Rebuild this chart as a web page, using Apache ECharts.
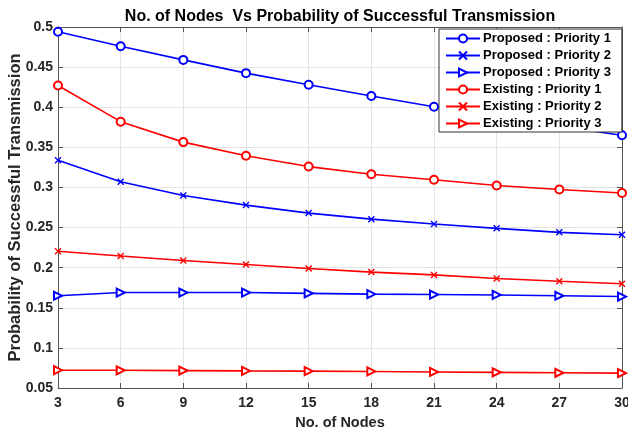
<!DOCTYPE html>
<html>
<head>
<meta charset="utf-8">
<script src="https://cdn.jsdelivr.net/npm/echarts@6/dist/echarts.min.js"></script>
<style>
  html, body { margin: 0; padding: 0; background: #fff; }
  #chart { width: 628px; height: 433px; }
</style>
</head>
<body>
<div id="chart"></div>
<script>
// number of nodes (x axis)
const nodes = [3, 6, 9, 12, 15, 18, 21, 24, 27, 30];

// values
const proposedP1 = [0.494, 0.476, 0.459, 0.4425, 0.428, 0.414, 0.4005, 0.388, 0.376, 0.365];
const proposedP2 = [0.334, 0.307, 0.290, 0.278, 0.268, 0.2605, 0.2545, 0.249, 0.244, 0.241];
const proposedP3 = [0.165, 0.169, 0.169, 0.169, 0.168, 0.167, 0.1665, 0.166, 0.165, 0.164];
const existingP1 = [0.427, 0.382, 0.3565, 0.3395, 0.326, 0.3165, 0.3095, 0.3025, 0.2975, 0.293];
const existingP2 = [0.2205, 0.2145, 0.209, 0.204, 0.199, 0.1945, 0.191, 0.1865, 0.183, 0.180];
const existingP3 = [0.0722, 0.0721, 0.0717, 0.0713, 0.071, 0.0706, 0.070, 0.0695, 0.069, 0.0685];

const yTicks = [0.05, 0.1, 0.15, 0.2, 0.25, 0.3, 0.35, 0.4, 0.45, 0.5];

const FONT = '"Liberation Sans", Arial, Helvetica, sans-serif';
const BLUE = '#0000ff';
const RED = '#ff0000';
const CROSS = 'path://M0,0L10,10M10,0L0,10';

function pairs(vals) {
    return vals.map((v, i) => [nodes[i], v]);
}

function mkSeries(name, vals, color, symbol, rotate) {
    return {
        name: name,
        type: 'line',
        data: pairs(vals),
        symbol: symbol,
        symbolSize: symbol === CROSS ? 6 : 8,
        symbolRotate: rotate || 0,
        showAllSymbol: true,
        lineStyle: { color: color, width: 1.6 },
        itemStyle: { color: color, borderColor: color, borderWidth: 1.4 },
        emphasis: { disabled: true },
        animation: false
    };
}

let series = [
    mkSeries('Proposed : Priority 1', proposedP1, BLUE, 'emptyCircle'),
    mkSeries('Proposed : Priority 2', proposedP2, BLUE, CROSS),
    mkSeries('Proposed : Priority 3', proposedP3, BLUE, 'emptyTriangle', -90),
    mkSeries('Existing : Priority 1', existingP1, RED, 'emptyCircle'),
    mkSeries('Existing : Priority 2', existingP2, RED, CROSS),
    mkSeries('Existing : Priority 3', existingP3, RED, 'emptyTriangle', -90)
];

let axisLine = { show: true, lineStyle: { color: '#555', width: 1 } };
let tick = { show: true, inside: true, length: 5, lineStyle: { color: '#555' } };
let label = { color: '#262626', fontWeight: 'bold', fontSize: 14, fontFamily: FONT };

let option = {
    backgroundColor: '#fff',
    animation: false,
    title: {
        text: 'No. of Nodes  Vs Probability of Successful Transmission',
        left: 335,
        textAlign: 'center',
        top: 4,
        textStyle: { color: '#000', fontWeight: 'bold', fontSize: 16, fontFamily: FONT }
    },
    legend: {
        orient: 'vertical',
        left: 439,
        top: 29,
        itemWidth: 34,
        itemHeight: 10,
        itemGap: 4,
        padding: [3, 11, 2, 6],
        backgroundColor: '#fff',
        borderColor: '#333',
        borderWidth: 1,
        textStyle: { color: '#000', fontWeight: 'bold', fontSize: 13, fontFamily: FONT, padding: [0, 0, 0, -2] },
        data: series.map(s => s.name)
    },
    // keep the plot box where it is, names may sit close to the edge
    grid: { left: 58, right: 6, top: 27, bottom: 45, containLabel: false, outerBoundsMode: 'none' },
    xAxis: [{
        type: 'value',
        min: 3,
        max: 30,
        interval: 3,
        name: 'No. of Nodes',
        nameLocation: 'middle',
        nameGap: 27,
        nameMoveOverlap: false,
        nameTextStyle: { color: '#262626', fontWeight: 'bold', fontSize: 14.5, fontFamily: FONT },
        axisLine: axisLine,
        axisTick: tick,
        axisLabel: Object.assign({ margin: 8 }, label),
        splitLine: { show: true, lineStyle: { color: '#e3e3e3' } }
    }, {
        type: 'value',
        position: 'top',
        min: 3,
        max: 30,
        interval: 3,
        axisLine: axisLine,
        axisTick: tick,
        axisLabel: { show: false },
        splitLine: { show: false }
    }],
    yAxis: [{
        type: 'value',
        min: 0.05,
        max: 0.5,
        interval: 0.05,
        name: 'Probability of Successful Transmission',
        nameLocation: 'middle',
        nameGap: 34,
        nameMoveOverlap: false,
        nameTextStyle: { color: '#262626', fontWeight: 'bold', fontSize: 16.5, fontFamily: FONT },
        axisLine: axisLine,
        axisTick: tick,
        axisLabel: Object.assign({
            margin: 5,
            formatter: v => {
                let t = yTicks.find(y => Math.abs(y - v) < 1e-6);
                return t === undefined ? '' : String(t);
            }
        }, label),
        splitLine: { show: true, lineStyle: { color: '#e3e3e3' } }
    }, {
        type: 'value',
        position: 'right',
        min: 0.05,
        max: 0.5,
        interval: 0.05,
        axisLine: axisLine,
        axisTick: tick,
        axisLabel: { show: false },
        splitLine: { show: false }
    }],
    series: series
};

let chart = echarts.init(document.getElementById('chart'), null, { renderer: 'canvas' });
chart.setOption(option);
</script>
</body>
</html>
